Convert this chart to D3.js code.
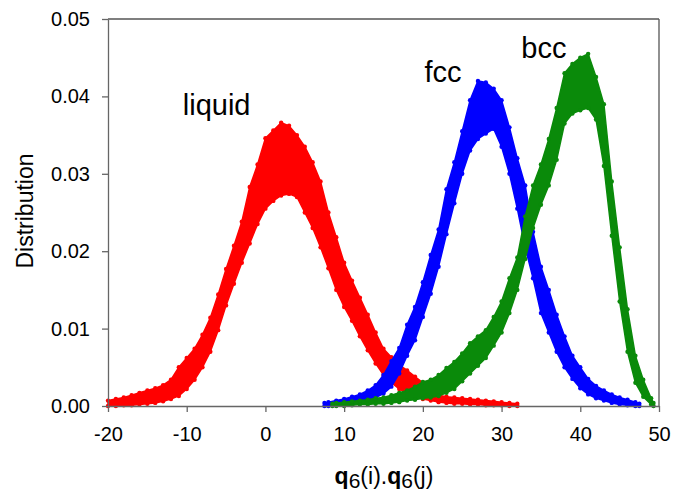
<!DOCTYPE html>
<html>
<head>
<meta charset="utf-8">
<script src="https://cdn.jsdelivr.net/npm/d3@7"></script>
<style>
  body { margin: 0; background: #fff; }
  svg { display: block; font-family: "Liberation Sans", Arial, sans-serif; }
  .axis path, .axis line { stroke: #666; stroke-width: 1.3; }
  .axis text { font-size: 20px; fill: #000; }
</style>
</head>
<body>
<div id="chart"></div>
<script>
// liquid (red): x, lower edge, upper edge of the point cloud
var liquidX  = [-20,-19,-18,-17,-16,-15,-14,-13,-12,-11,-10,-9,-8,-7,-6,-5,-4,-3,-2,-1,0,1,2,3,4,5,6,7,8,9,10,11,12,13,14,15,16,17,18,19,20,21,22,23,24,25,26,27,28,29,30,31,32];
var liquidLo = [0,0,0.0001,0.0001,0.0002,0.0003,0.0004,0.0006,0.0009,0.0013,0.0022,0.0034,0.0050,0.0070,0.0098,0.0130,0.0158,0.0185,0.0210,0.0235,0.0255,0.0265,0.0272,0.0274,0.0270,0.0250,0.0230,0.0205,0.0178,0.0150,0.0128,0.0110,0.0090,0.0072,0.0055,0.0040,0.0030,0.0022,0.0016,0.0012,0.0009,0.0007,0.0005,0.0004,0.0003,0.0003,0.0002,0.0002,0.0001,0.0001,0.0001,0,0];
var liquidHi = [0.0007,0.0009,0.0011,0.0014,0.0017,0.0020,0.0023,0.0027,0.0034,0.0050,0.0062,0.0074,0.0092,0.0114,0.0144,0.0177,0.0207,0.0238,0.0283,0.0312,0.0346,0.0356,0.0366,0.0362,0.0350,0.0335,0.0315,0.0290,0.0250,0.0218,0.0185,0.0162,0.0140,0.0118,0.0095,0.0074,0.0063,0.0053,0.0046,0.0038,0.0030,0.0018,0.0014,0.0012,0.0011,0.0010,0.0009,0.0008,0.0007,0.0006,0.0005,0.0004,0.0003];

// fcc (blue)
var fccX  = [7.5,8,9,10,11,12,13,14,15,16,17,18,19,20,21,22,23,24,25,26,27,28,29,30,31,32,33,34,35,36,37,38,39,40,41,42,43,44,45,46,47,47.5];
var fccLo = [0,0,0.0001,0.0002,0.0003,0.0005,0.0007,0.0011,0.0016,0.0025,0.0042,0.0065,0.0085,0.0115,0.0145,0.0180,0.0222,0.0262,0.0300,0.0330,0.0345,0.0352,0.0358,0.0335,0.0300,0.0255,0.0205,0.0165,0.0120,0.0095,0.0070,0.0050,0.0035,0.0023,0.0015,0.0010,0.0007,0.0004,0.0002,0.0001,0,0];
var fccHi = [0.0004,0.0005,0.0007,0.0009,0.0012,0.0015,0.0020,0.0027,0.0040,0.0058,0.0075,0.0105,0.0128,0.0160,0.0195,0.0228,0.0280,0.0315,0.0355,0.0395,0.0420,0.0418,0.0410,0.0395,0.0360,0.0320,0.0285,0.0225,0.0180,0.0150,0.0118,0.0090,0.0065,0.0050,0.0035,0.0026,0.0020,0.0015,0.0011,0.0008,0.0005,0.0003];

// bcc (green)
var bccX  = [8.5,9,10,11,12,13,14,15,16,17,18,19,20,21,22,23,24,25,26,27,28,29,30,31,32,33,34,35,36,37,38,39,40,41,42,43,44,45,46,47,48,49,49.3];
var bccLo = [0,0,0,0.0001,0.0002,0.0002,0.0003,0.0003,0.0004,0.0005,0.0007,0.0008,0.0010,0.0011,0.0013,0.0017,0.0022,0.0032,0.0042,0.0052,0.0062,0.0078,0.0095,0.0120,0.0150,0.0190,0.0230,0.0260,0.0285,0.0318,0.0365,0.0378,0.0382,0.0385,0.0370,0.0310,0.0220,0.0135,0.0070,0.0030,0.0012,0.0002,0];
var bccHi = [0.0003,0.0004,0.0005,0.0006,0.0007,0.0008,0.0010,0.0011,0.0014,0.0017,0.0020,0.0025,0.0031,0.0034,0.0040,0.0049,0.0057,0.0068,0.0081,0.0090,0.0098,0.0115,0.0135,0.0165,0.0192,0.0245,0.0285,0.0312,0.0345,0.0385,0.0430,0.0442,0.0450,0.0455,0.0425,0.0390,0.0290,0.0205,0.0125,0.0065,0.0034,0.0010,0.0004];

var xTicks = [-20, -10, 0, 10, 20, 30, 40, 50];
var yTicks = [0, 0.01, 0.02, 0.03, 0.04, 0.05];

var margin = {top: 19, right: 23, bottom: 86, left: 108},
    width = 682 - margin.left - margin.right,
    height = 492 - margin.top - margin.bottom;

var svg = d3.select("#chart").append("svg")
    .attr("width", 682)
    .attr("height", 492);

var g = svg.append("g")
    .attr("transform", "translate(" + margin.left + "," + margin.top + ")");

var x = d3.scaleLinear().domain([-20, 50]).range([0, width]);
var y = d3.scaleLinear().domain([0, 0.05]).range([height, 0]);

function build(xs, lo, hi) {
  return xs.map(function(v, i) { return {x: v, lo: lo[i], hi: hi[i]}; });
}

var series = [
  {name: "liquid", color: "#ff0000", data: build(liquidX, liquidLo, liquidHi)},
  {name: "fcc", color: "#0000ff", data: build(fccX, fccLo, fccHi)},
  {name: "bcc", color: "#0a8a0a", data: build(bccX, bccLo, bccHi)}
];

var area = d3.area()
    .x(function(d) { return x(d.x); })
    .y0(function(d) { return y(d.lo); })
    .y1(function(d) { return y(d.hi); });

series.forEach(function(s) {
  var sg = g.append("g").attr("class", "series");
  sg.append("path")
    .attr("d", area(s.data))
    .attr("fill", s.color)
    .attr("stroke", s.color)
    .attr("stroke-width", 1.5);

  // ragged edges of the cloud
  sg.selectAll("circle.lo").data(s.data).enter().append("circle")
    .attr("cx", function(d) { return x(d.x); })
    .attr("cy", function(d) { return y(d.lo); })
    .attr("r", 2.2)
    .attr("fill", s.color);
  sg.selectAll("circle.hi").data(s.data).enter().append("circle")
    .attr("cx", function(d) { return x(d.x); })
    .attr("cy", function(d) { return y(d.hi); })
    .attr("r", 2.2)
    .attr("fill", s.color);
});

// frame: top and right
g.append("line").attr("x1", 0).attr("x2", width).attr("y1", 0).attr("y2", 0)
  .attr("stroke", "#555").attr("stroke-width", 1.3);
g.append("line").attr("x1", width).attr("x2", width).attr("y1", 0).attr("y2", height)
  .attr("stroke", "#555").attr("stroke-width", 1.3);

g.append("g")
  .attr("class", "axis")
  .attr("transform", "translate(0," + height + ")")
  .call(d3.axisBottom(x).tickValues(xTicks).tickSize(6).tickSizeOuter(0).tickPadding(15)
    .tickFormat(function(d) { return String(d); }));

g.append("g")
  .attr("class", "axis")
  .call(d3.axisLeft(y).tickValues(yTicks).tickSize(6).tickSizeOuter(0).tickPadding(12).tickFormat(d3.format(".2f")));

// axis titles
svg.append("text")
  .attr("transform", "translate(33,211) rotate(-90)")
  .attr("text-anchor", "middle")
  .style("font-size", "23px")
  .text("Distribution");

var xt = svg.append("text")
  .attr("x", 384)
  .attr("y", 484)
  .attr("text-anchor", "middle")
  .style("font-size", "23px");
xt.append("tspan").style("font-weight", "bold").text("q");
xt.append("tspan").attr("dy", 4).style("font-size", "21px").text("6");
xt.append("tspan").attr("dy", -4).text("(i).");
xt.append("tspan").style("font-weight", "bold").text("q");
xt.append("tspan").attr("dy", 4).style("font-size", "21px").text("6");
xt.append("tspan").attr("dy", -4).text("(j)");

// curve labels
var labels = [
  {text: "liquid", x: -10.5, y: 0.0376},
  {text: "fcc", x: 20.2, y: 0.0419},
  {text: "bcc", x: 32.5, y: 0.0449}
];
g.selectAll("text.label").data(labels).enter().append("text")
  .attr("class", "label")
  .attr("x", function(d) { return x(d.x); })
  .attr("y", function(d) { return y(d.y); })
  .style("font-size", "29px")
  .text(function(d) { return d.text; });
</script>
</body>
</html>
